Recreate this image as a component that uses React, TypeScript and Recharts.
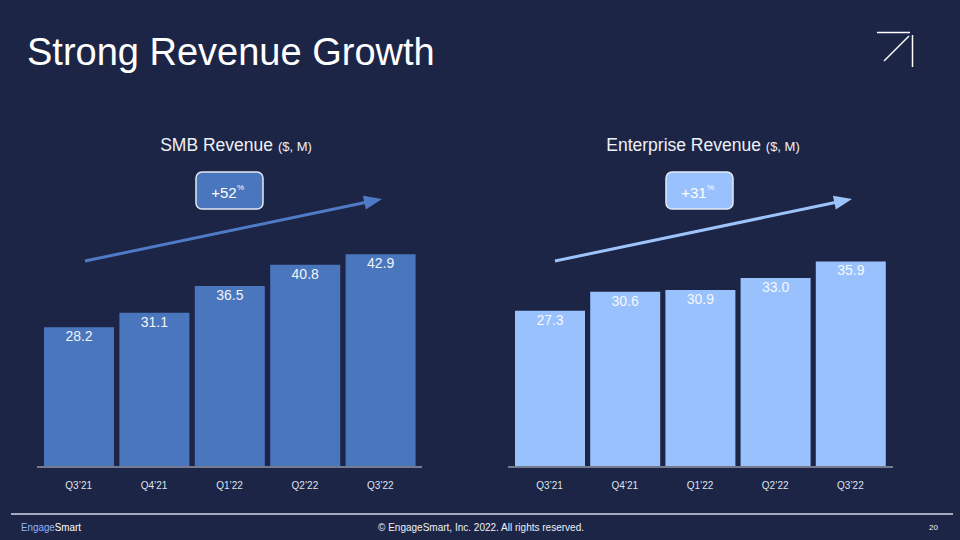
import React from 'react';
import { BarChart, Bar, XAxis, YAxis, LabelList } from 'recharts';

const quarters = ["Q3’21", "Q4’21", "Q1’22", "Q2’22", "Q3’22"];
const smbRevenue = [28.2, 31.1, 36.5, 40.8, 42.9];
const enterpriseRevenue = [27.3, 30.6, 30.9, 33.0, 35.9];
const smbGrowth = "+52";
const enterpriseGrowth = "+31";

const smbData = quarters.map((q, i) => ({ q, v: smbRevenue[i] }));
const entData = quarters.map((q, i) => ({ q, v: enterpriseRevenue[i] }));

const BG = '#1d2546';
const SMB_COLOR = '#4a76be';
const ENT_COLOR = '#99c1fd';
const FONT = '"Liberation Sans", Arial, sans-serif';

function Arrow({ x1, y1, x2, y2, color }: { x1: number; y1: number; x2: number; y2: number; color: string }) {
  const dx = x2 - x1;
  const dy = y2 - y1;
  const len = Math.sqrt(dx * dx + dy * dy);
  const ux = dx / len;
  const uy = dy / len;
  const hl = 18;
  const hw = 7;
  const bx = x2 - ux * hl;
  const by = y2 - uy * hl;
  const px = -uy;
  const py = ux;
  return (
    <g>
      <line x1={x1} y1={y1} x2={bx + ux * 2} y2={by + uy * 2} stroke={color} strokeWidth={3} />
      <polygon
        points={`${x2},${y2} ${bx + px * hw},${by + py * hw} ${bx - px * hw},${by - py * hw}`}
        fill={color}
      />
    </g>
  );
}

function Badge({ x, y, fill, text }: { x: number; y: number; fill: string; text: string }) {
  return (
    <g>
      <rect x={x} y={y} width={67} height={37} rx={6} ry={6} fill={fill} stroke="#e4e9f5" strokeWidth={1.5} />
      <text x={x + 28} y={y + 26} fill="#ffffff" fontSize={15} fontFamily={FONT} textAnchor="middle">
        {text}
      </text>
      <text x={x + 41} y={y + 18} fill="#ffffff" fontSize={8} fontFamily={FONT}>
        %
      </text>
    </g>
  );
}

function RevenueChart({ data, color, max, padRight, labelColor }: { data: { q: string; v: number }[]; color: string; max: number; padRight: number; labelColor: string }) {
  return (
    <BarChart width={400} height={301} data={data} margin={{ top: 20, right: 5, left: 10, bottom: 0 }} barSize={70}>
      <YAxis hide domain={[0, max]} />
      <XAxis
        dataKey="q"
        height={33}
        padding={{ left: 4, right: padRight }}
        axisLine={{ stroke: '#747b90', strokeWidth: 2 }}
        tickLine={false}
        tickSize={0}
        tickMargin={15}
        tick={{ fill: '#dfe3ee', fontSize: 10, fontFamily: FONT }}
        interval={0}
      />
      <Bar dataKey="v" fill={color} isAnimationActive={false}>
        <LabelList
          dataKey="v"
          position="insideTop"
          offset={4}
          fill={labelColor}
          fontSize={14}
          fontFamily={FONT}
          formatter={(v: any) => Number(v).toFixed(1)}
        />
      </Bar>
    </BarChart>
  );
}

export default function App() {
  return (
    <div style={{ position: 'absolute', left: 0, top: 0, width: 960, height: 540, background: BG, overflow: 'hidden', fontFamily: FONT }}>
      <div style={{ position: 'absolute', left: 27, top: 199 }}>
        <RevenueChart data={smbData} color={SMB_COLOR} max={50} padRight={4} labelColor="#f2f4f8" />
      </div>
      <div style={{ position: 'absolute', left: 498, top: 199 }}>
        <RevenueChart data={entData} color={ENT_COLOR} max={43.3} padRight={5} labelColor="#f6f8fc" />
      </div>
      <svg width={960} height={540} style={{ position: 'absolute', left: 0, top: 0, pointerEvents: 'none' }}>
        <text x={27} y={65} fill="#ffffff" fontSize={38} fontFamily={FONT}>
          Strong Revenue Growth
        </text>
        <g stroke="#ffffff" strokeWidth={1.5} fill="none">
          <line x1={877} y1={32.5} x2={910} y2={32.5} />
          <line x1={912.5} y1={35} x2={912.5} y2={67} />
          <line x1={884} y1={61} x2={909} y2={36} />
        </g>
        <text x={236} y={151} fill="#eef1f7" fontFamily={FONT} textAnchor="middle">
          <tspan fontSize={17.5}>SMB Revenue </tspan>
          <tspan fontSize={13}>($, M)</tspan>
        </text>
        <text x={703} y={151} fill="#eef1f7" fontFamily={FONT} textAnchor="middle">
          <tspan fontSize={17.5}>Enterprise Revenue </tspan>
          <tspan fontSize={13}>($, M)</tspan>
        </text>
        <Badge x={196} y={172} fill={SMB_COLOR} text={smbGrowth} />
        <Badge x={666} y={172} fill={ENT_COLOR} text={enterpriseGrowth} />
        <Arrow x1={85} y1={261} x2={382} y2={199} color="#4f7bc6" />
        <Arrow x1={555} y1={261} x2={852} y2={199} color="#9dc3fb" />
        <line x1={11} y1={514} x2={953} y2={514} stroke="#a3a9bd" strokeWidth={2} />
        <text x={21} y={531} fontSize={10.5} fontFamily={FONT} textLength={60} lengthAdjust="spacingAndGlyphs">
          <tspan fill="#8fb4ff">Engage</tspan>
          <tspan fill="#ffffff">Smart</tspan>
        </text>
        <text x={378} y={531} fontSize={10.5} fill="#eef1f7" fontFamily={FONT} textLength={206} lengthAdjust="spacingAndGlyphs">
          © EngageSmart, Inc. 2022. All rights reserved.
        </text>
        <text x={938} y={530} fontSize={8} fill="#eef1f7" textAnchor="end" fontFamily={FONT}>
          20
        </text>
      </svg>
    </div>
  );
}
